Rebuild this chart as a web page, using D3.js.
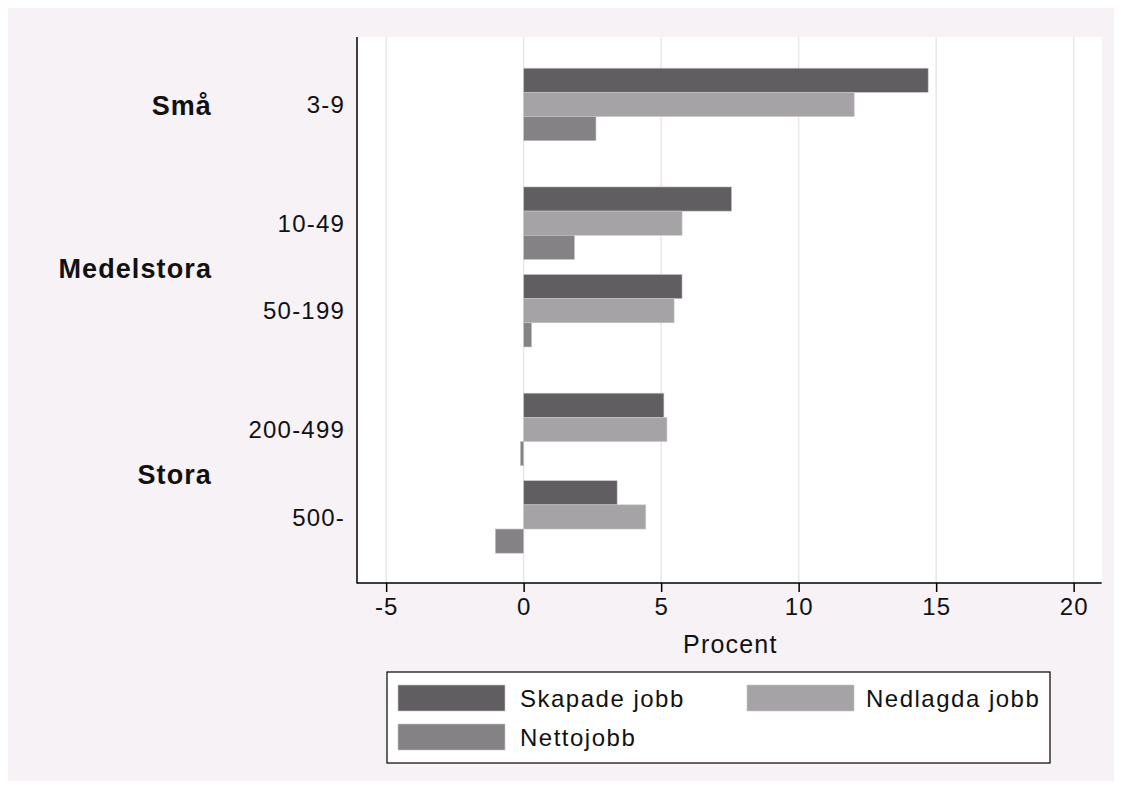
<!DOCTYPE html>
<html>
<head>
<meta charset="utf-8">
<script src="https://cdn.jsdelivr.net/npm/d3@7"></script>
<style>
  html, body { margin: 0; padding: 0; background: #ffffff; }
  svg { display: block; }
  text { font-family: "Liberation Sans", Arial, sans-serif; fill: #111; }
</style>
</head>
<body>
<svg id="chart" width="1122" height="789"></svg>
<script>
// ---- data ----
const supergroups = ["Små", "Medelstora", "Stora"];
const categories = ["3-9", "10-49", "50-199", "200-499", "500-"];
const categoryGroup = [0, 1, 1, 2, 2];
const seriesNames = ["Skapade jobb", "Nedlagda jobb", "Nettojobb"];
const skapade = [14.71, 7.56, 5.76, 5.10, 3.40];
const nedlagda = [12.02, 5.76, 5.47, 5.21, 4.44];
const netto = [2.63, 1.85, 0.29, -0.12, -1.03];
const xTicks = [-5, 0, 5, 10, 15, 20];
const xLabel = "Procent";

const seriesValues = [skapade, nedlagda, netto];
const colors = ["#615e62", "#a5a3a6", "#858285"];

const svg = d3.select("#chart");
const W = 1122, H = 789;

// backgrounds
svg.append("rect").attr("x", 0).attr("y", 0).attr("width", W).attr("height", H).attr("fill", "#ffffff");
svg.append("rect").attr("x", 8).attr("y", 8).attr("width", W - 16).attr("height", H - 16).attr("fill", "#f6f2f6");

const plot = { left: 357, right: 1101.7, top: 37, bottom: 583 };
svg.append("rect").attr("x", plot.left).attr("y", plot.top)
  .attr("width", plot.right - plot.left).attr("height", plot.bottom - plot.top).attr("fill", "#ffffff");

// scales
const x = d3.scaleLinear().domain([-6.06, 21.02]).range([plot.left, plot.right]);
const gapUnits = 0.357;
const pos = categories.map((c, i) => i + categoryGroup[i] * gapUnits);
const y = d3.scaleLinear().domain([-0.771, 5.469]).range([plot.top, plot.bottom]);
const unitPx = y(1) - y(0);
const groupH = unitPx * 0.829;
const barH = groupH / 3;

// gridlines
svg.append("g").selectAll("line").data(xTicks).join("line")
  .attr("x1", d => x(d)).attr("x2", d => x(d))
  .attr("y1", plot.top).attr("y2", plot.bottom)
  .attr("stroke", "#ebe5ea").attr("stroke-width", 1.5);

// bars
const barsG = svg.append("g");
seriesValues.forEach((vals, s) => {
  barsG.selectAll(null).data(vals).join("rect")
    .attr("x", d => Math.min(x(0), x(d)))
    .attr("width", d => Math.abs(x(d) - x(0)))
    .attr("y", (d, i) => y(pos[i]) - groupH / 2 + s * barH)
    .attr("height", barH)
    .attr("fill", colors[s])
    .attr("stroke", "#c9c6c9")
    .attr("stroke-width", 0.6);
});

// axes lines
svg.append("line").attr("x1", plot.left).attr("x2", plot.left)
  .attr("y1", plot.top).attr("y2", plot.bottom + 0.5).attr("stroke", "#000").attr("stroke-width", 1.5);
const xAxis = d3.axisBottom(x).tickValues(xTicks).tickSize(9).tickPadding(6).tickFormat(d3.format("d"));
const xg = svg.append("g").attr("transform", `translate(0,${plot.bottom})`).call(xAxis);
xg.select(".domain").attr("d", `M${plot.left},0H${plot.right}`).attr("stroke", "#000").attr("stroke-width", 1.5);
xg.selectAll(".tick line").attr("stroke", "#000").attr("stroke-width", 1.5);
xg.selectAll(".tick text").attr("font-size", 24).attr("fill", "#111")
  .attr("font-family", "'Liberation Sans', Arial, sans-serif")
  .style("letter-spacing", "1px")
  .text(d => d < 0 ? "-" + Math.abs(d) : d);

svg.append("text").attr("x", (plot.left + plot.right) / 2 + 1).attr("y", 652.5)
  .attr("text-anchor", "middle").attr("font-size", 25).style("letter-spacing", "1.2px").text(xLabel);

// category labels
svg.append("g").selectAll("text").data(categories).join("text")
  .attr("x", 345).attr("y", (d, i) => y(pos[i]))
  .attr("dy", "0.36em")
  .attr("text-anchor", "end").attr("font-size", 24)
  .style("letter-spacing", "1.2px")
  .text(d => d);

// supergroup labels
const sgCenters = supergroups.map((g, gi) => {
  const idx = categoryGroup.map((v, i) => v === gi ? i : -1).filter(i => i >= 0);
  return d3.mean(idx, i => y(pos[i]));
});
svg.append("g").selectAll("text").data(supergroups).join("text")
  .attr("x", 212).attr("y", (d, i) => sgCenters[i])
  .attr("dy", "0.4em")
  .attr("text-anchor", "end").attr("font-size", 27).attr("font-weight", "bold")
  .style("letter-spacing", "1.1px")
  .text(d => d);

// legend
const lg = svg.append("g");
lg.append("rect").attr("x", 387).attr("y", 672).attr("width", 663).attr("height", 91)
  .attr("fill", "#ffffff").attr("stroke", "#000").attr("stroke-width", 1.2);
const legendPos = [
  { sx: 398, sy: 685, tx: 520 },
  { sx: 747, sy: 685, tx: 866 },
  { sx: 398, sy: 724, tx: 520 }
];
seriesNames.forEach((n, i) => {
  const p = legendPos[i];
  lg.append("rect").attr("x", p.sx).attr("y", p.sy).attr("width", 107).attr("height", 26)
    .attr("fill", colors[i]).attr("stroke", "#c9c6c9").attr("stroke-width", 0.6);
  lg.append("text").attr("x", p.tx).attr("y", p.sy + 13).attr("dy", "0.36em")
    .attr("font-size", 24).style("letter-spacing", "1.5px").text(n);
});
</script>
</body>
</html>
